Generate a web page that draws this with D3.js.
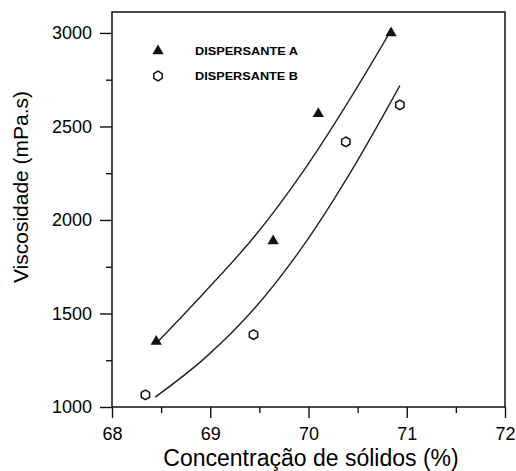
<!DOCTYPE html>
<html>
<head>
<meta charset="utf-8">
<script src="https://cdn.jsdelivr.net/npm/d3@7"></script>
<style>
  body { margin: 0; background: #fff; }
  svg { display: block; font-family: "Liberation Sans", Arial, sans-serif; }
</style>
</head>
<body>
<div id="chart"></div>
<script>
// measured points
const concA = [68.45, 69.64, 70.10, 70.84];
const viscA = [1350, 1888, 2568, 3000];
const concB = [68.34, 69.44, 70.38, 70.93];
const viscB = [1065, 1387, 2418, 2615];

// fitted curves
const fitConcA = [68.47, 68.95, 69.46, 69.96, 70.47, 70.83];
const fitViscA = [1351, 1618, 1918, 2271, 2688, 3005];
const fitConcB = [68.44, 68.95, 69.46, 69.96, 70.47, 70.93];
const fitViscB = [1053, 1264, 1533, 1872, 2292, 2718];

const xTicks = [68, 69, 70, 71, 72];
const xMinor = [68.5, 69.5, 70.5, 71.5];
const yTicks = [1000, 1500, 2000, 2500, 3000];
const yMinor = [1250, 1750, 2250, 2750];

const seriesNames = ["DISPERSANTE A", "DISPERSANTE B"];

const width = 516, height = 471;
const margin = {top: 12, right: 11, bottom: 64, left: 112};

const svg = d3.select("#chart").append("svg")
    .attr("width", width)
    .attr("height", height);

const x = d3.scaleLinear().domain([68, 72]).range([margin.left, width - margin.right]);
const y = d3.scaleLinear().domain([1000, 3112]).range([height - margin.bottom, margin.top]);

// axes
const gx = svg.append("g")
    .attr("transform", `translate(0,${height - margin.bottom})`)
    .call(d3.axisBottom(x).tickValues(xTicks).tickSize(11).tickPadding(9).tickFormat(d3.format("d")));
const gxm = svg.append("g")
    .attr("transform", `translate(0,${height - margin.bottom})`)
    .call(d3.axisBottom(x).tickValues(xMinor).tickSize(6).tickFormat(""));
const gy = svg.append("g")
    .attr("transform", `translate(${margin.left},0)`)
    .call(d3.axisLeft(y).tickValues(yTicks).tickSize(12).tickPadding(8).tickFormat(d3.format("d")));
const gym = svg.append("g")
    .attr("transform", `translate(${margin.left},0)`)
    .call(d3.axisLeft(y).tickValues(yMinor).tickSize(6).tickFormat(""));

[gx, gxm, gy, gym].forEach(g => {
  g.select(".domain").remove();
  g.selectAll("line").attr("stroke", "#111").attr("stroke-width", 1.4);
  g.selectAll("text").attr("fill", "#000").style("font-size", "18px");
});

// frame
svg.append("rect")
    .attr("x", margin.left)
    .attr("y", margin.top)
    .attr("width", width - margin.right - margin.left)
    .attr("height", height - margin.bottom - margin.top)
    .attr("fill", "none")
    .attr("stroke", "#111")
    .attr("stroke-width", 1.5);

// fitted curves
const line = d3.line()
    .x(d => x(d[0]))
    .y(d => y(d[1]))
    .curve(d3.curveMonotoneX);

svg.append("path")
    .datum(d3.zip(fitConcA, fitViscA))
    .attr("d", line)
    .attr("fill", "none")
    .attr("stroke", "#222")
    .attr("stroke-width", 1.4);

svg.append("path")
    .datum(d3.zip(fitConcB, fitViscB))
    .attr("d", line)
    .attr("fill", "none")
    .attr("stroke", "#222")
    .attr("stroke-width", 1.4);

// open hexagon symbol
const symbolHexagon = {
  draw(context, size) {
    const r = Math.sqrt(size / 2.6);
    for (let i = 0; i < 6; i++) {
      const a = Math.PI / 3 * i - Math.PI / 2;
      const px = r * Math.cos(a), py = r * Math.sin(a);
      if (i === 0) context.moveTo(px, py); else context.lineTo(px, py);
    }
    context.closePath();
  }
};

const tri = d3.symbol().type(d3.symbolTriangle).size(55);
const hex = d3.symbol().type(symbolHexagon).size(60);

svg.append("g")
    .selectAll("path")
    .data(d3.zip(concA, viscA))
    .enter().append("path")
      .attr("transform", d => `translate(${x(d[0])},${y(d[1])})`)
      .attr("d", tri)
      .attr("fill", "#111");

svg.append("g")
    .selectAll("path")
    .data(d3.zip(concB, viscB))
    .enter().append("path")
      .attr("transform", d => `translate(${x(d[0])},${y(d[1])})`)
      .attr("d", hex)
      .attr("fill", "#fff")
      .attr("stroke", "#111")
      .attr("stroke-width", 1.5);

// legend
const legend = svg.append("g");
legend.append("path")
    .attr("transform", "translate(158,51)")
    .attr("d", tri)
    .attr("fill", "#111");
legend.append("path")
    .attr("transform", "translate(158,76)")
    .attr("d", hex)
    .attr("fill", "#fff")
    .attr("stroke", "#111")
    .attr("stroke-width", 1.5);
legend.selectAll("text")
    .data(seriesNames)
    .enter().append("text")
      .attr("x", 195)
      .attr("y", (d, i) => 51 + i * 25)
      .attr("dy", "0.35em")
      .attr("textLength", 103)
      .attr("lengthAdjust", "spacingAndGlyphs")
      .style("font-size", "10px")
      .style("font-weight", "bold")
      .attr("fill", "#000")
      .text(d => d);

// axis titles
svg.append("text")
    .attr("x", 311)
    .attr("y", 466)
    .attr("text-anchor", "middle")
    .style("font-size", "23px")
    .attr("fill", "#000")
    .text("Concentração de sólidos (%)");

svg.append("text")
    .attr("transform", "translate(28,187) rotate(-90)")
    .attr("text-anchor", "middle")
    .style("font-size", "21px")
    .attr("fill", "#000")
    .text("Viscosidade (mPa.s)");
</script>
</body>
</html>
